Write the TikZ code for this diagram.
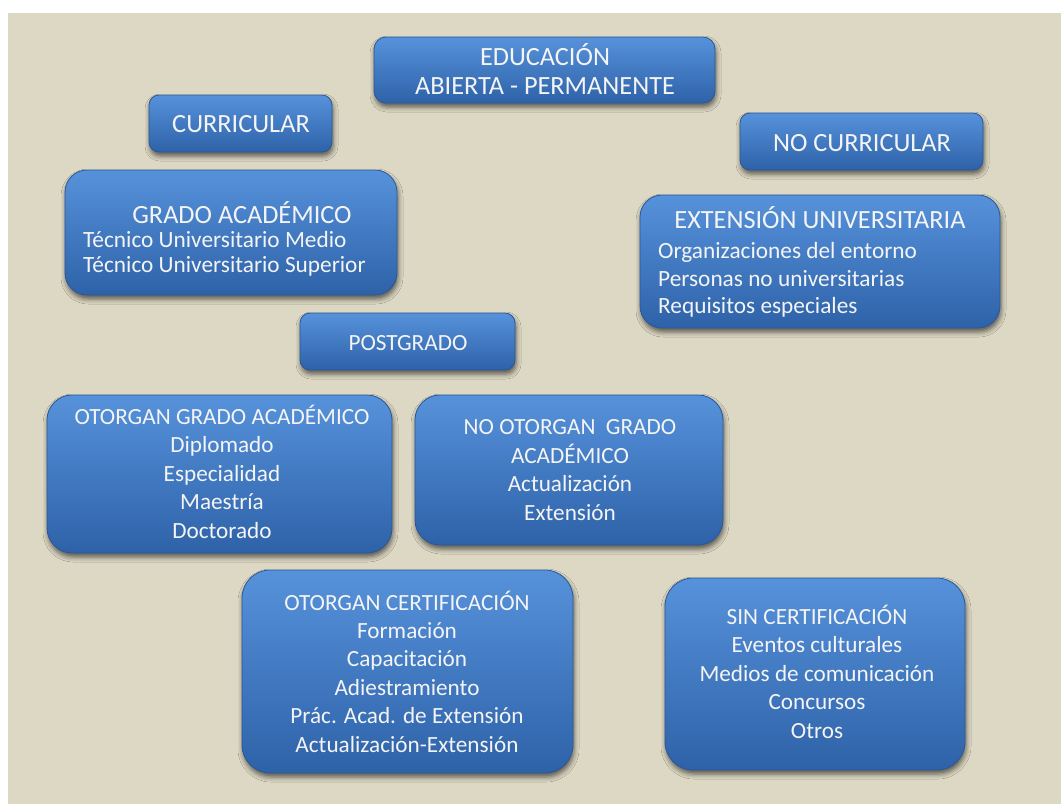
\documentclass[tikz,border=0pt]{standalone}
\usepackage{fontspec}
\setmainfont{Carlito}
\usetikzlibrary{shadows.blur}
\definecolor{bg}{HTML}{DDD8C3}
\definecolor{btop}{HTML}{5692DB}
\definecolor{bbot}{HTML}{2E62A8}
\definecolor{bline}{HTML}{2B5796}
\definecolor{txt}{HTML}{F4F4F4}
\tikzset{
  box/.style={draw=bline, line width=0.8pt, top color=btop, bottom color=bbot,
    rounded corners=#1, inner sep=0pt,
    blur shadow={shadow xshift=1pt, shadow yshift=-4pt, shadow blur radius=5pt, shadow opacity=60}},
  lbl/.style={text=txt, align=center, inner sep=0pt, anchor=base, font=\fontsize{23.2}{28.4}\selectfont},
  big/.style={font=\fontsize{26.3}{29}\selectfont},
  lbll/.style={text=txt, align=left, inner sep=0pt, anchor=base west, font=\fontsize{23.3}{28}\selectfont},
}
\begin{document}
\begin{tikzpicture}[x=1pt,y=-1pt]
\useasboundingbox (0,0) rectangle (1061,804);
\fill[white] (0,0) rectangle (1061,804);
\fill[bg] (8,13) rectangle (1061,804);

% boxes
\node[box=12pt, minimum width=341pt, minimum height=66pt] (edu) at (544.5,70) {};
\node[box=10pt, minimum width=183pt, minimum height=57pt] (cur) at (240.5,123.5) {};
\node[box=10pt, minimum width=243pt, minimum height=57pt] (ncur) at (861.5,141.5) {};
\node[box=22pt, minimum width=332pt, minimum height=125pt] (grado) at (231,232.5) {};
\node[box=22pt, minimum width=360pt, minimum height=133pt] (ext) at (820,261.5) {};
\node[box=10pt, minimum width=215pt, minimum height=57pt] (post) at (407.5,341.5) {};
\node[box=25pt, minimum width=345pt, minimum height=158pt] (otg) at (219.5,474) {};
\node[box=25pt, minimum width=308pt, minimum height=150pt] (notg) at (569,470) {};
\node[box=28pt, minimum width=331pt, minimum height=203pt] (cert) at (407.5,671.5) {};
\node[box=28pt, minimum width=300pt, minimum height=192pt] (sin) at (815,674) {};

% texts (base anchor = baseline of the last line)
\node[lbl, big] (tedu) at (545,94) {EDUCACIÓN\\ABIERTA - PERMANENTE};
\node[lbl, big] (tcur) at (241,132) {CURRICULAR};
\node[lbl, big] (tncur) at (862,151) {NO CURRICULAR};
\node[lbl, big] (tgrado) at (242,223) {GRADO ACADÉMICO};
\node[lbll] (tg1) at (83,247) {Técnico Universitario Medio};
\node[lbll] (tg2) at (83,272) {Técnico Universitario Superior};
\node[lbl, big] (text) at (820,228) {EXTENSIÓN UNIVERSITARIA};
\node[lbll] (te1) at (658,258) {Organizaciones del entorno};
\node[lbll] (te2) at (658,286) {Personas no universitarias};
\node[lbll] (te3) at (658,313) {Requisitos especiales};
\node[lbl] (tpost) at (408,350) {POSTGRADO};
\node[lbl] (totg) at (222,538) {OTORGAN GRADO ACADÉMICO\\Diplomado\\Especialidad\\Maestría\\Doctorado};
\node[lbl] (tnotg) at (570,520) {NO OTORGAN\ \ GRADO\\ACADÉMICO\\Actualización\\Extensión};
\node[lbl] (tcert) at (407,752) {OTORGAN CERTIFICACIÓN\\Formación\\Capacitación\\Adiestramiento\\Prác. Acad. de Extensión\\Actualización-Extensión};
\node[lbl] (tsin) at (817,738) {SIN CERTIFICACIÓN\\Eventos culturales\\Medios de comunicación\\Concursos\\Otros};
\end{tikzpicture}
\end{document}
